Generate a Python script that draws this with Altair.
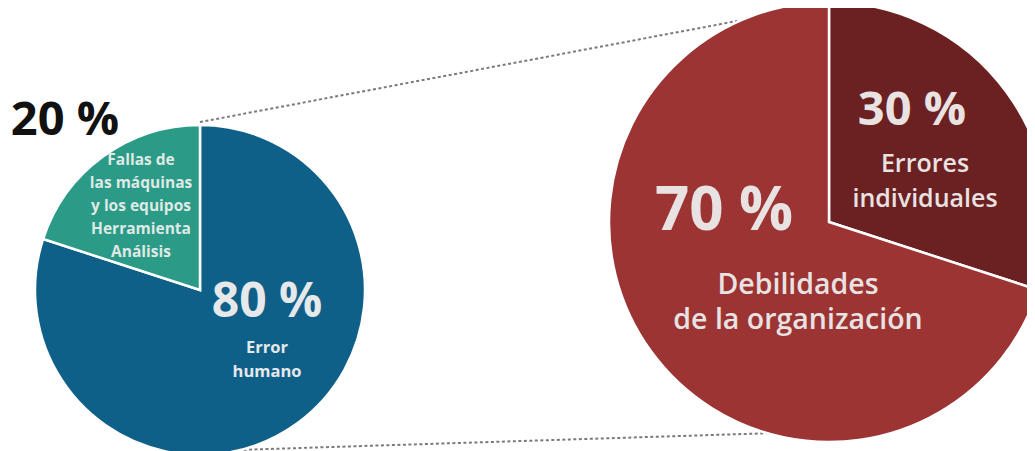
import altair as alt
import pandas as pd

# ---- data ----
left_categories = ["Error humano", "Fallas de las máquinas y los equipos Herramienta Análisis"]
left_values = [80, 20]
left_label_lines = [["Error", "humano"],
                    ["Fallas de", "las máquinas", "y los equipos", "Herramienta", "Análisis"]]

right_categories = ["Errores individuales", "Debilidades de la organización"]
right_values = [30, 70]
right_label_lines = [["Errores", "individuales"], ["Debilidades", "de la organización"]]

# ---- styles / layout ----
colors = {
    "Error humano": "#0f6089",
    "Fallas de las máquinas y los equipos Herramienta Análisis": "#2b9a86",
    "Errores individuales": "#6b2021",
    "Debilidades de la organización": "#9c3434",
}
FONT = "Open Sans"
W, H = 1019, 443
LEFT = dict(cx=192, cy=282, r=165)
RIGHT = dict(cx=821, cy=214, r=220)

left_df = pd.DataFrame({"cat": left_categories, "value": left_values, "order": [0, 1]})
right_df = pd.DataFrame({"cat": right_categories, "value": right_values, "order": [0, 1]})

color_scale = alt.Scale(domain=list(colors.keys()), range=list(colors.values()))


def pie(df, geo):
    return alt.Chart(df).mark_arc(radius=geo["r"], stroke="white", strokeWidth=2.5).encode(
        theta=alt.Theta("value:Q", stack=True),
        order=alt.Order("order:Q"),
        color=alt.Color("cat:N", scale=color_scale, legend=None),
        x=alt.value(geo["cx"]),
        y=alt.value(geo["cy"]),
    )


def label(text, x, y, size, color, line_height=None, weight="bold"):
    kw = dict(align="center", baseline="alphabetic", font=FONT, fontSize=size,
              fontWeight=weight, color=color, lineBreak="\n")
    if line_height:
        kw["lineHeight"] = line_height
    return alt.Chart(pd.DataFrame({"t": [text]})).mark_text(**kw).encode(
        text="t:N", x=alt.value(x), y=alt.value(y))


def connector(x1, y1, x2, y2):
    return alt.Chart(pd.DataFrame({"a": [0]})).mark_rule(
        color="#7a7a7a", strokeWidth=2, strokeDash=[3, 2.5]).encode(
        x=alt.value(x1), y=alt.value(y1), x2=alt.value(x2), y2=alt.value(y2))


pct = lambda v: f"{v} %"

layers = [
    connector(192, 114, 729, 13),
    connector(197, 443, 767, 425),
    pie(left_df, LEFT),
    pie(right_df, RIGHT),
    label(pct(left_values[1]), 57, 127, 47, "#111111"),
    label("\n".join(left_label_lines[1]), 133, 157, 15.5, "#dfe9e5", line_height=23),
    label(pct(left_values[0]), 259, 309, 48, "#e6e8ea"),
    label("\n".join(left_label_lines[0]), 259, 345, 16.5, "#e6e8ea", line_height=24),
    label(pct(right_values[0]), 904, 117, 47, "#e8e2e2"),
    label("\n".join(right_label_lines[0]), 917, 164, 25, "#e8e2e2", line_height=35, weight=600),
    label(pct(right_values[1]), 716, 222, 60, "#e8e2e2"),
    label("\n".join(right_label_lines[1]), 790, 286, 28.5, "#e8e2e2", line_height=35, weight=600),
]

chart = alt.layer(*layers).properties(
    width=W, height=H, autosize=alt.AutoSizeParams(type="none"), padding=0
).configure_view(stroke=None)

chart.save("out.html", embed_options={"renderer": "svg", "actions": False})
